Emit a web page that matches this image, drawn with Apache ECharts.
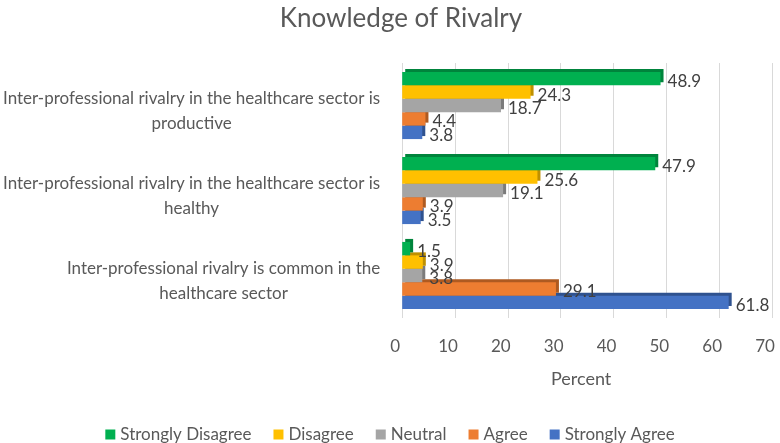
<!DOCTYPE html>
<html>
<head>
<meta charset="utf-8">
<script src="https://cdn.jsdelivr.net/npm/echarts@6/dist/echarts.min.js"></script>
<style>html,body{margin:0;padding:0;background:#fff}#c{width:780px;height:443px}</style>
</head>
<body>
<div id="c"></div>
<script>
const categories = [
  'Inter-professional rivalry is common in the\nhealthcare sector',
  'Inter-professional rivalry in the healthcare sector is\nhealthy',
  'Inter-professional rivalry in the healthcare sector is\nproductive'
];
const seriesNames = ['Strongly Disagree', 'Disagree', 'Neutral', 'Agree', 'Strongly Agree'];
const stronglyDisagree = [1.5, 47.9, 48.9];
const disagree = [3.9, 25.6, 24.3];
const neutral = [3.8, 19.1, 18.7];
const agree = [29.1, 3.9, 4.4];
const stronglyAgree = [61.8, 3.5, 3.8];
const xTicks = { min: 0, max: 70, interval: 10 };

const values = [stronglyDisagree, disagree, neutral, agree, stronglyAgree];
const colors = ['#00B050', '#FFC000', '#A5A5A5', '#ED7D31', '#4472C4'];
const darks = ['#00843C', '#BF9000', '#7B7B7B', '#AE5A21', '#2F528F'];
const FONT = 'Lato, "Open Sans", sans-serif';

const chart = echarts.init(document.getElementById('c'), null, { renderer: 'canvas' });
chart.setOption({
  animation: false,
  backgroundColor: '#fff',
  title: {
    text: 'Knowledge of Rivalry',
    left: 396, top: 1, textAlign: 'center',
    textStyle: { fontFamily: FONT, fontSize: 26, fontWeight: 'normal', color: '#595959' }
  },
  legend: {
    data: seriesNames,
    left: 'center', top: 421,
    itemWidth: 10, itemHeight: 10, itemGap: 22,
    icon: 'rect',
    textStyle: { fontFamily: FONT, fontSize: 17, color: '#595959' }
  },
  grid: { left: 400, right: 8, top: 63, bottom: 125, containLabel: false },
  xAxis: {
    type: 'value', min: xTicks.min, max: xTicks.max, interval: xTicks.interval,
    name: 'Percent', nameLocation: 'middle', nameGap: 52,
    nameTextStyle: { fontFamily: FONT, fontSize: 18, color: '#595959', padding: [0, 12, 0, 0] },
    axisLine: { show: false }, axisTick: { show: false },
    axisLabel: { fontFamily: FONT, fontSize: 17, color: '#595959', margin: 20, padding: [0, 14, 0, 0] },
    splitLine: { show: true, lineStyle: { color: '#D9D9D9', width: 1 } }
  },
  yAxis: {
    type: 'category', data: categories,
    axisLine: { show: false }, axisTick: { show: false },
    axisLabel: {
      margin: 22,
      padding: [12, 0, 0, 0],
      formatter: v => v.split('\n').map(l => '{c|' + l + '}').join('\n'),
      rich: { c: { fontFamily: FONT, fontSize: 17, color: '#595959', align: 'center', lineHeight: 25 } }
    }
  },
  series: seriesNames.map((n, i) => ({
    name: n, type: 'bar', data: values[i], z: 10 - i,
    barGap: '0%', barCategoryGap: '21%',
    itemStyle: {
      color: colors[i],
      shadowColor: darks[i], shadowBlur: 0, shadowOffsetX: 3, shadowOffsetY: -3
    },
    label: {
      show: true, position: 'right', distance: 7, offset: [0, 3],
      fontFamily: FONT, fontSize: 17, color: '#404040'
    }
  }))
});
</script>
</body>
</html>
